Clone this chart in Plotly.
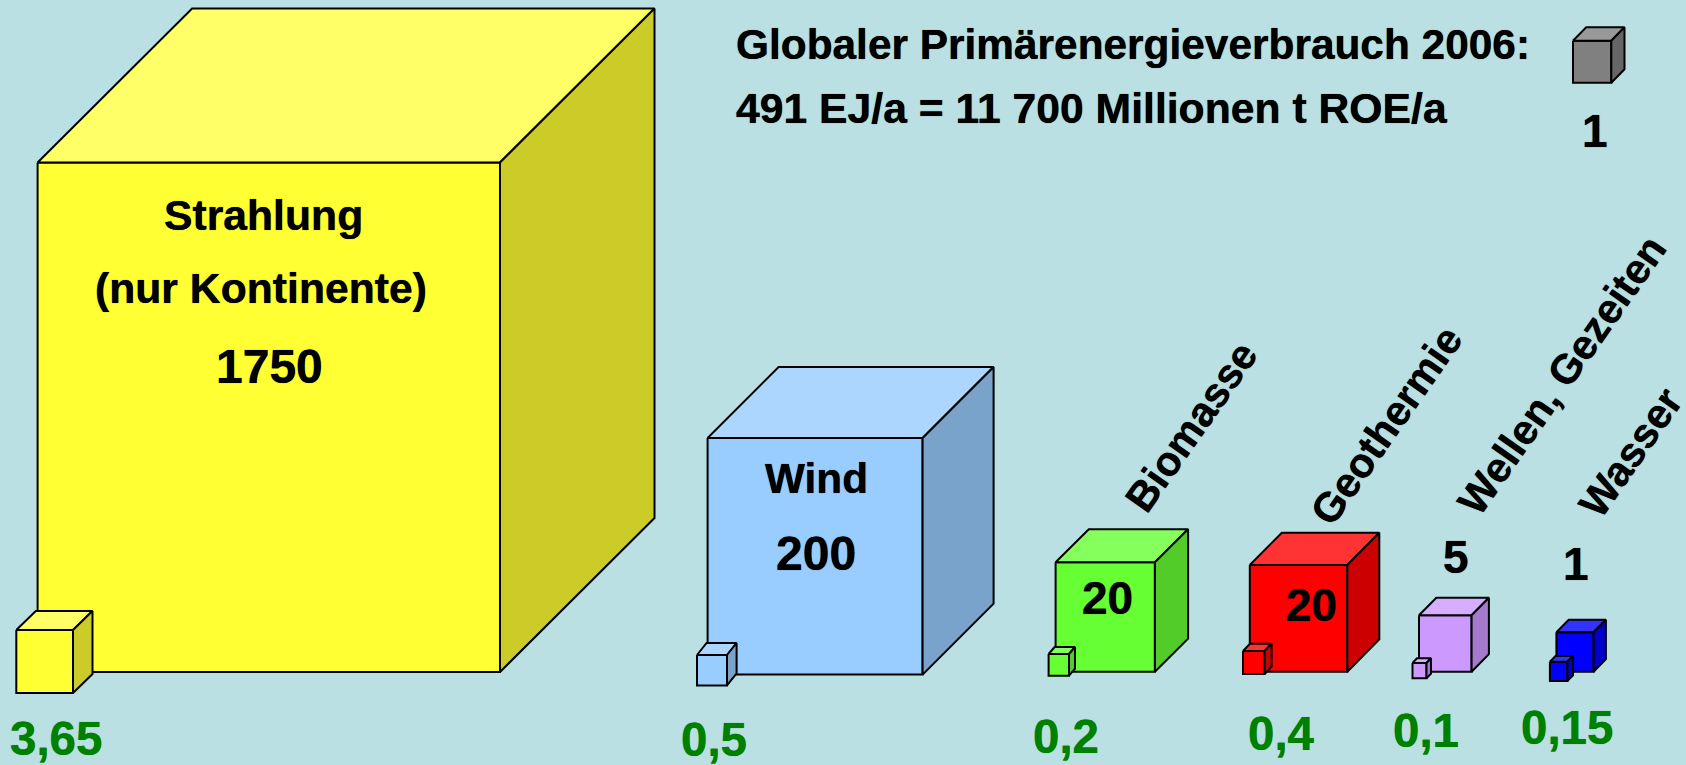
import plotly.graph_objects as go

# --- data ---
categories = ["Strahlung", "Wind", "Biomasse", "Geothermie", "Wellen, Gezeiten", "Wasser"]
potential_values = ["1750", "200", "20", "20", "5", "1"]
usage_values = ["3,65", "0,5", "0,2", "0,4", "0,1", "0,15"]
reference_value = "1"
title_lines = ["Globaler Primärenergieverbrauch 2006:", "491 EJ/a = 11 700 Millionen t ROE/a"]
strahlung_lines = ["Strahlung", "(nur Kontinente)"]

# --- geometry in picture pixels: front-left, front-right, front-top, bottom, depth-x, depth-y ---
big_cubes = [
    (37.6, 500, 162.5, 672, 154.5, 154),
    (707.6, 922.6, 438, 674.6, 71, 71),
    (1055.6, 1154.9, 562.3, 671.7, 33.2, 33),
    (1249.8, 1347.3, 565, 671.7, 32, 32.3),
    (1419, 1471.6, 615.3, 671.7, 17.3, 17.6),
    (1556.4, 1593.6, 632.3, 671.7, 12.3, 12.6),
]
small_cubes = [
    (16.3, 73, 630, 693, 19.5, 19),
    (697, 727, 655, 685.4, 9.6, 12),
    (1048.6, 1069, 654, 675.7, 6, 7),
    (1243, 1264.6, 651, 674, 7, 7.3),
    (1412.5, 1426.5, 663, 678.3, 4.5, 4.7),
    (1549.9, 1567.4, 661.7, 681, 5.6, 5.7),
]
grey_cube = (1573, 1611.3, 40.7, 82.7, 13.2, 13.4)

# front, top, side
palette = [
    ("#FFFF33", "#FFFF66", "#CCCC29"),
    ("#99CCFF", "#ADD6FF", "#7AA3CC"),
    ("#66FF33", "#85FF5C", "#52CC29"),
    ("#FF0000", "#FF3333", "#CC0000"),
    ("#CC99FF", "#D6ADFF", "#A37ACC"),
    ("#0000FF", "#3333FF", "#0000CC"),
]
grey = ("#808080", "#999999", "#666666")

BG = "#BAE0E3"
GREEN = "#008000"
FONT = "Liberation Sans"

fig = go.Figure()


def face(xs, ys, color):
    fig.add_trace(go.Scatter(
        x=xs + xs[:1], y=ys + ys[:1], mode="lines", fill="toself", fillcolor=color,
        line=dict(color="black", width=2), hoverinfo="skip", showlegend=False,
    ))


def cube(geo, cols):
    l, r, t, b, dx, dy = geo
    face([l, r, r, l], [t, t, b, b], cols[0])
    face([l, l + dx, r + dx, r], [t, t - dy, t - dy, t], cols[1])
    face([r, r + dx, r + dx, r], [t, t - dy, b - dy, b], cols[2])


for g, c in zip(big_cubes, palette):
    cube(g, c)
for g, c in zip(small_cubes, palette):
    cube(g, c)
cube(grey_cube, grey)


def label(x, y, text, size=42.7, color="black", angle=0, anchor="center"):
    fig.add_annotation(
        x=x, y=y, text="<b>%s</b>" % text, showarrow=False, xref="x", yref="y",
        xanchor=anchor, yanchor="middle", textangle=angle,
        font=dict(family=FONT, size=size, color=color,
                  shadow="0 0 0.7px %s" % color),
    )


label(734, 44, title_lines[0], size=42.4, anchor="left")
label(734, 107.5, title_lines[1], anchor="left")
label(1595, 131, reference_value, size=46)

label(263, 215, strahlung_lines[0])
label(261, 288, strahlung_lines[1])
label(269, 366, potential_values[0], size=48)
label(816, 478, categories[1], size=42.3)
label(816, 553, potential_values[1], size=48)

label(1107.6, 598, potential_values[2], size=46)
label(1311, 605, potential_values[3], size=46)
label(1456, 557, potential_values[4], size=46)
label(1576, 564, potential_values[5], size=46)

rot_pos = [(1191, 426.5), (1386, 425.5), (1561, 375), (1630, 452)]
for name, (x, y) in zip(categories[2:], rot_pos):
    label(x, y, name, size=41.5, angle=-55)

green_pos = [(56, 738), (714, 739), (1066, 736), (1281, 733), (1426, 730.5), (1566.5, 727)]
for val, (x, y) in zip(usage_values, green_pos):
    label(x, y, val, size=47.5, color=GREEN)

fig.update_layout(
    width=1686, height=765, margin=dict(l=0, r=0, t=0, b=0),
    paper_bgcolor=BG, plot_bgcolor=BG, showlegend=False,
    xaxis=dict(range=[0, 1686], visible=False, fixedrange=True),
    yaxis=dict(range=[765, 0], visible=False, fixedrange=True),
)
fig.write_html("out.html", config={"displayModeBar": False},
               post_script="document.body.style.margin='0';document.body.style.overflow='hidden';")
